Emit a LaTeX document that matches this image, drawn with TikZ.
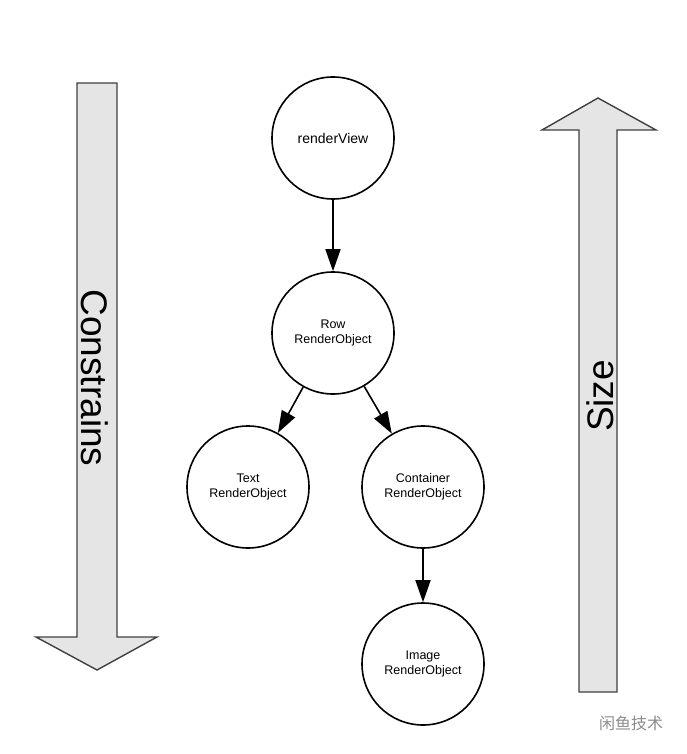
\documentclass[tikz,border=0pt]{standalone}
\usepackage{fontspec}
\setmainfont{Liberation Sans}
\newfontfamily\cjkfont{Noto Sans CJK SC}
\usetikzlibrary{arrows.meta,positioning}

\begin{document}
\begin{tikzpicture}[x=1pt,y=-1pt,
    obj/.style={circle,draw,line width=1.6pt,minimum size=122pt,inner sep=0pt,align=center,font=\fontsize{12.5}{15}\selectfont},
    link/.style={-{Triangle[length=22pt,width=15pt]},line width=1.6pt},
    bigarrow/.style={draw=black!75,fill=black!10,line width=1.4pt,line join=miter},
    biglabel/.style={font=\fontsize{37}{40}\selectfont}]
    \useasboundingbox (0,0) rectangle (686,754);
    % render tree
    \node[obj,font=\fontsize{14}{16}\selectfont] (view) at (333,138) {renderView};
    \node[obj] (row) at (333,333) {Row\\RenderObject};
    \node[obj] (text) at (248,487) {Text\\RenderObject};
    \node[obj] (box) at (423,487) {Container\\RenderObject};
    \node[obj] (image) at (423,664) {Image\\RenderObject};
    \foreach \a/\b in {view/row,row/text,row/box,box/image} {\draw[link] (\a)--(\b);}
    % constraints go down, sizes go up
    \draw[bigarrow] (77,83) -- (117,83) -- (117,637) -- (157,637) -- (97,670) -- (36,637) -- (77,637) -- cycle;
    \node[biglabel,rotate=-90] (down) at (95,378) {Constrains};
    \draw[bigarrow] (579,692) -- (617,692) -- (617,130) -- (656,130) -- (598,98) -- (542,130) -- (579,130) -- cycle;
    \node[biglabel,rotate=90] (up) at (600,396) {Size};
    \node[text=black!45,font=\cjkfont\fontsize{16}{18}\selectfont] (mark) at (631,723) {闲鱼技术};
\end{tikzpicture}
\end{document}
